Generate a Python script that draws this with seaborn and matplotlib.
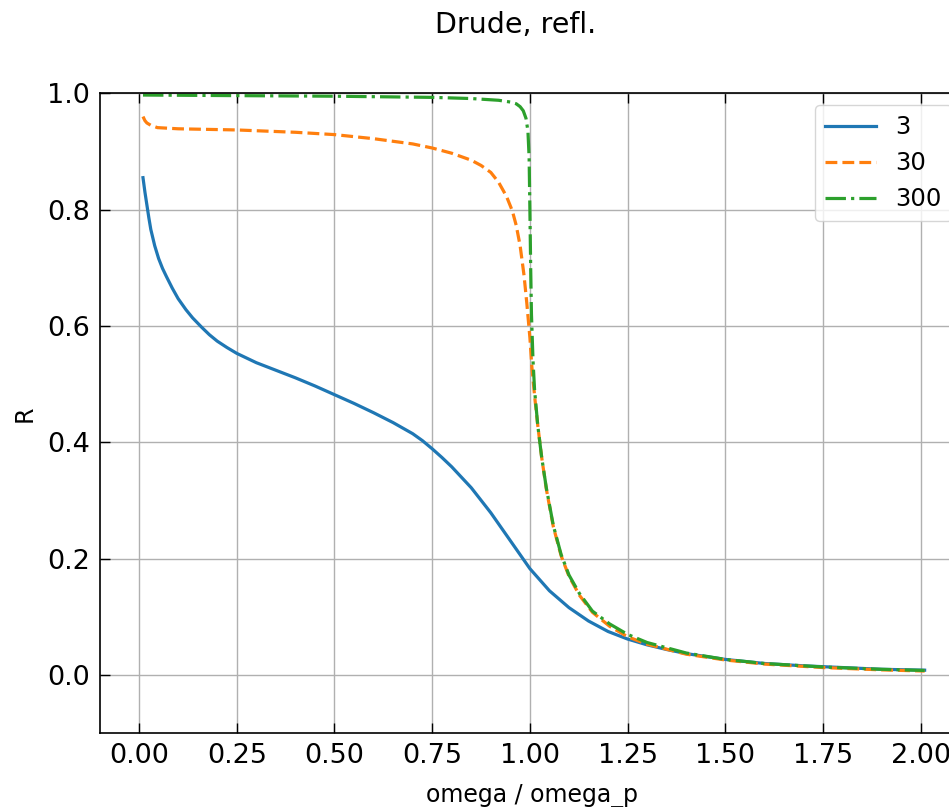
import matplotlib
matplotlib.use("Agg")
import matplotlib.pyplot as plt
import seaborn as sns
import pandas as pd

# R(omega), for three relaxation times tau
blue_x = [0.01, 0.015, 0.02, 0.025, 0.03, 0.04, 0.05, 0.06, 0.07, 0.085, 0.1, 0.12, 0.137,
          0.16, 0.18, 0.2, 0.225, 0.25, 0.3, 0.35, 0.4, 0.45, 0.5, 0.55, 0.6, 0.65, 0.7,
          0.725, 0.75, 0.775, 0.8, 0.85, 0.9, 0.95, 1.0, 1.05, 1.1, 1.15, 1.2, 1.25, 1.3,
          1.35, 1.4, 1.5, 1.6, 1.7, 1.8, 1.9, 2.01]
blue_y = [0.855, 0.83, 0.808, 0.786, 0.766, 0.738, 0.716, 0.699, 0.685, 0.665, 0.647, 0.628, 0.614,
          0.598, 0.585, 0.574, 0.563, 0.553, 0.537, 0.524, 0.511, 0.497, 0.482, 0.467, 0.451, 0.434, 0.415,
          0.403, 0.389, 0.374, 0.358, 0.322, 0.279, 0.231, 0.183, 0.145, 0.116, 0.093, 0.075, 0.062, 0.052,
          0.044, 0.037, 0.027, 0.020, 0.016, 0.013, 0.010, 0.0085]

orange_x = [0.01, 0.015, 0.02, 0.03, 0.047, 0.1, 0.25, 0.4, 0.5, 0.6, 0.7, 0.75, 0.8, 0.85,
            0.875, 0.9, 0.92, 0.94, 0.955, 0.965, 0.975, 0.985, 0.992, 1.0, 1.005, 1.012,
            1.02, 1.03, 1.042, 1.06, 1.08, 1.1, 1.127, 1.16, 1.204, 1.25, 1.3, 1.4, 1.5,
            1.6, 1.75, 1.9, 2.01]
orange_y = [0.96, 0.953, 0.949, 0.945, 0.941, 0.939, 0.937, 0.933, 0.929, 0.922, 0.913, 0.906, 0.897, 0.885,
            0.876, 0.864, 0.847, 0.823, 0.798, 0.773, 0.738, 0.687, 0.64, 0.58, 0.53, 0.48,
            0.43, 0.375, 0.32, 0.255, 0.205, 0.17, 0.137, 0.108, 0.084, 0.066, 0.053, 0.036, 0.026,
            0.019, 0.013, 0.009, 0.007]

green_x = [0.01, 0.25, 0.5, 0.75, 0.85, 0.92, 0.95, 0.965, 0.975, 0.983, 0.99, 0.995, 0.998,
           1.0, 1.002, 1.004, 1.008, 1.012, 1.02, 1.03, 1.042, 1.06, 1.08, 1.1, 1.127, 1.16,
           1.204, 1.25, 1.3, 1.4, 1.5, 1.6, 1.75, 1.9, 2.01]
green_y = [0.997, 0.996, 0.995, 0.993, 0.991, 0.988, 0.985, 0.982, 0.977, 0.97, 0.957, 0.935, 0.89,
           0.80, 0.70, 0.62, 0.54, 0.49, 0.43, 0.375, 0.322, 0.257, 0.207, 0.172, 0.14, 0.11,
           0.088, 0.07, 0.056, 0.038, 0.027, 0.02, 0.014, 0.01, 0.008]

labels = ["3", "30", "300"]
colors = ["#1f77b4", "#ff7f0e", "#2ca02c"]
styles = ["-", "--", "-."]

fig = plt.figure(figsize=(9.49, 8.07), dpi=100)
ax = fig.add_axes([100 / 949, 1 - 733.3 / 807, 863.7 / 949, 640 / 807])

series = [(blue_x, blue_y), (orange_x, orange_y), (green_x, green_y)]
for (xs, ys), lab, col, ls in zip(series, labels, colors, styles):
    df = pd.DataFrame({"omega": xs, "R": ys})
    sns.lineplot(data=df, x="omega", y="R", ax=ax, label=lab, color=col,
                 linestyle=ls, linewidth=2.3, sort=False)

ax.set_xlim(-0.1, 2.11)
ax.set_ylim(-0.1, 1.0)
ax.set_xticks([0, 0.25, 0.5, 0.75, 1.0, 1.25, 1.5, 1.75, 2.0])
ax.set_yticks([0.0, 0.2, 0.4, 0.6, 0.8, 1.0])
ax.grid(True, color="#b0b0b0", linewidth=1)
ax.tick_params(direction="in", top=True, right=True, length=7, width=1,
               labelsize=19.5, pad=7)
for sp in ax.spines.values():
    sp.set_linewidth(1.2)

ax.set_xlabel("omega / omega_p", fontsize=17, labelpad=11)
ax.set_ylabel("R", fontsize=17, labelpad=8)
ax.legend(loc="upper right", fontsize=17.5, handlelength=2.1)

fig.text(516 / 949, 1 - 25 / 807, "Drude, refl.", ha="center", va="center", fontsize=20.5)

fig.savefig("out.png", dpi=100)
